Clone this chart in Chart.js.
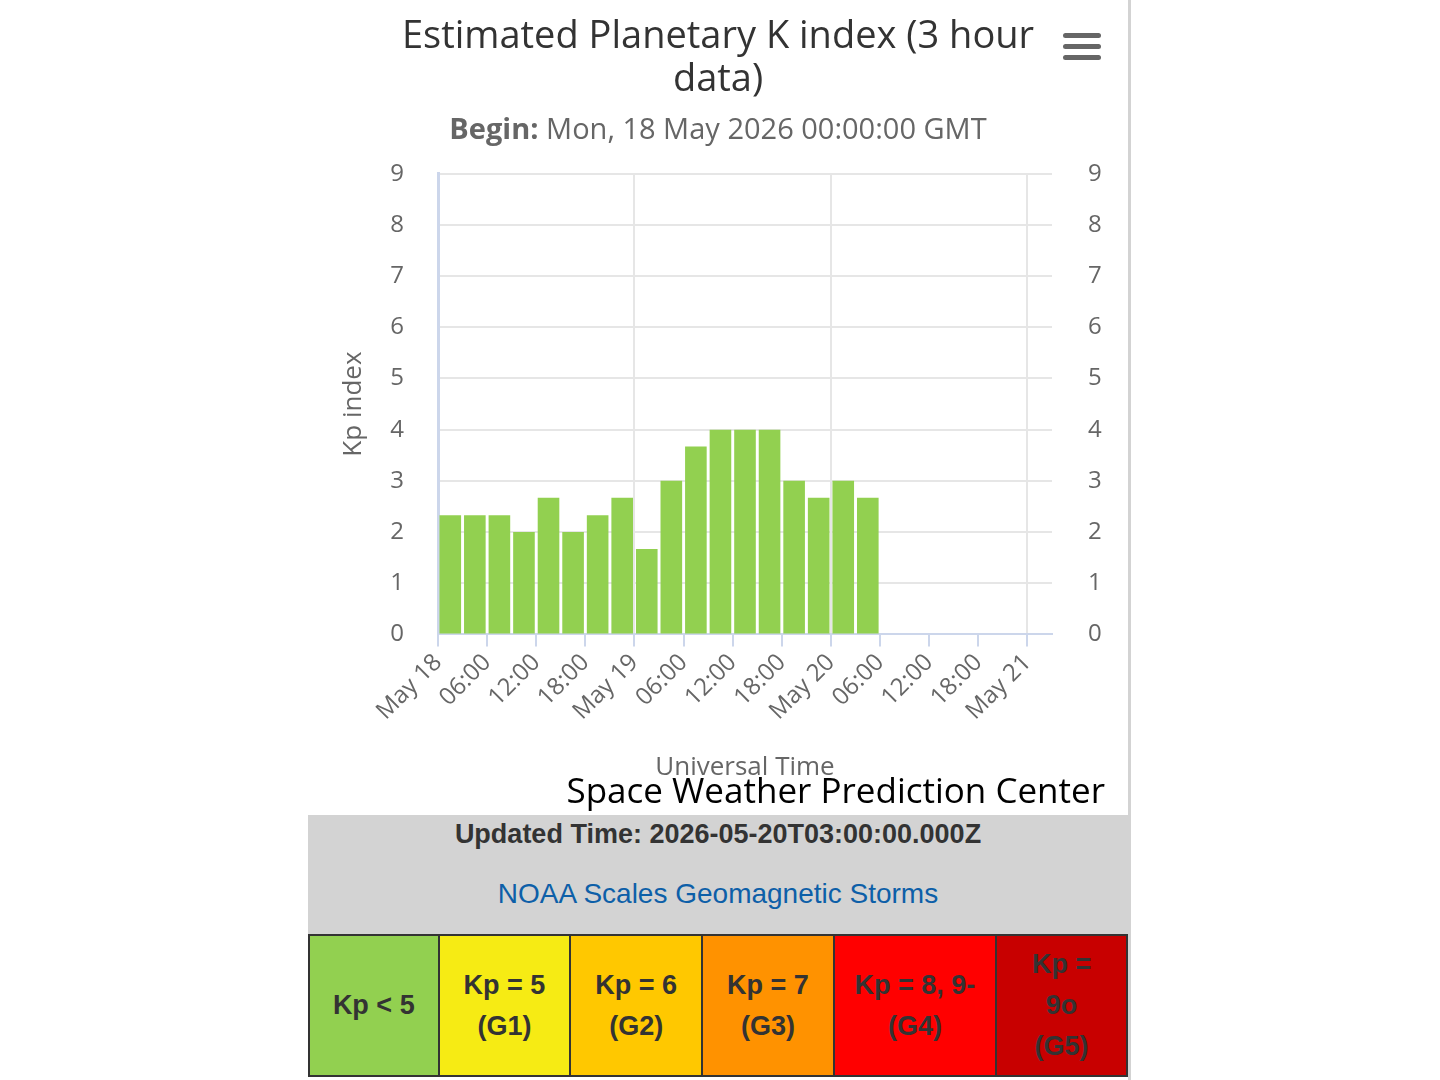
<!DOCTYPE html>
<html>
<head>
<meta charset="utf-8">
<title>Estimated Planetary K index</title>
<script src="https://cdn.jsdelivr.net/npm/chart.js@4"></script>
<style>
  body { margin: 0; background: #fff; font-family: "Liberation Sans", Arial, sans-serif; }
  #page { position: absolute; left: 308px; top: 0; width: 820px; height: 1080px; }
  #edge { position: absolute; left: 1128px; top: 0; width: 3px; height: 1080px; background: #d3d3d3; }
  #chartBox { position: relative; width: 820px; height: 815px; }
  #menu { position: absolute; left: 755px; top: 33px; width: 38px; }
  #menu div { height: 5px; border-radius: 3px; background: #666; margin-bottom: 6px; }
  #info { background: #d3d3d3; height: 119px; text-align: center; font-family: "Liberation Sans Narrow", "Liberation Sans", Arial, sans-serif; }
  #updated { padding-top: 4px; font-size: 27px; font-weight: bold; color: #333; }
  #noaa { padding-top: 28px; font-size: 28px; color: #0d5fa8; }
  table { border-collapse: collapse; width: 820px; height: 143px; font-family: "Liberation Sans Narrow", "Liberation Sans", Arial, sans-serif; }
  td { border: 2px solid #333; text-align: center; font-size: 27px; font-weight: bold; color: #333; line-height: 41px; padding: 0 4px; }
</style>
</head>
<body>
<div id="edge"></div>
<div id="page">
  <div id="chartBox">
    <canvas id="chart"></canvas>
    <div id="menu"><div></div><div></div><div></div></div>
  </div>
  <div id="info">
    <div id="updated">Updated Time: 2026-05-20T03:00:00.000Z</div>
    <div id="noaa">NOAA Scales Geomagnetic Storms</div>
  </div>
  <table>
    <tr>
      <td style="background:#92d050;width:126px">Kp &lt; 5</td>
      <td style="background:#f6eb14;width:127px">Kp = 5<br>(G1)</td>
      <td style="background:#ffc800;width:127px">Kp = 6<br>(G2)</td>
      <td style="background:#ff9200;width:127px">Kp = 7<br>(G3)</td>
      <td style="background:#ff0000;width:160px">Kp = 8, 9-<br>(G4)</td>
      <td style="background:#c80000;width:126px">Kp =<br>9o<br>(G5)</td>
    </tr>
  </table>
</div>
<script>
// 3-hour intervals, hours since Mon 18 May 2026 00:00 UTC
var barStartHours = [0, 3, 6, 9, 12, 15, 18, 21, 24, 27, 30, 33, 36, 39, 42, 45, 48, 51];
var kpValues = [2.33, 2.33, 2.33, 2.0, 2.67, 2.0, 2.33, 2.67, 1.67, 3.0, 3.67, 4.0, 4.0, 4.0, 3.0, 2.67, 3.0, 2.67];
var xTickHours = [0, 6, 12, 18, 24, 30, 36, 42, 48, 54, 60, 66, 72];
var xTickLabels = ['May 18', '06:00', '12:00', '18:00', 'May 19', '06:00', '12:00', '18:00', 'May 20', '06:00', '12:00', '18:00', 'May 21'];
var yTicks = [0, 1, 2, 3, 4, 5, 6, 7, 8, 9];

var chartFont = '"Open Sans", "DejaVu Sans", sans-serif';
var subtitleText = 'Begin: Mon, 18 May 2026 00:00:00 GMT';

var overlayText = {
    id: 'overlayText',
    afterDraw: function(chart) {
        var c = chart.ctx;
        c.save();
        // subtitle with bold prefix
        var box = chart.boxes.find(function(b) { return b.options && b.options.text === subtitleText; });
        if (box) {
            var y = box.top + 18;
            c.font = 'bold 29px ' + chartFont;
            var w1 = c.measureText('Begin: ').width;
            c.font = '29px ' + chartFont;
            var rest = 'Mon, 18 May 2026 00:00:00 GMT';
            var w2 = c.measureText(rest).width;
            var x0 = chart.width / 2 - (w1 + w2) / 2;
            c.textBaseline = 'middle';
            c.fillStyle = '#666';
            c.font = 'bold 29px ' + chartFont;
            c.fillText('Begin: ', x0, y);
            c.font = '29px ' + chartFont;
            c.fillText(rest, x0 + w1, y);
        }
        // credit
        c.font = '35px ' + chartFont;
        c.fillStyle = '#000';
        c.textAlign = 'right';
        c.textBaseline = 'middle';
        c.fillText('Space Weather Prediction Center', 797, 793);
        c.restore();
    }
};

document.addEventListener('DOMContentLoaded', function() {
    var ctx = document.getElementById('chart').getContext('2d');

    var points = barStartHours.map(function(h, i) {
        return { x: h + 1.5, y: kpValues[i] };
    });

    new Chart(ctx, {
        type: 'bar',
        data: {
            datasets: [{
                label: 'Kp',
                data: points,
                backgroundColor: '#92d050',
                borderWidth: 0,
                barPercentage: 0.88,
                categoryPercentage: 1,
                yAxisID: 'y'
            }]
        },
        options: {
            responsive: true,
            maintainAspectRatio: false,
            animation: false,
            layout: { padding: { left: 0, right: 0, top: 0, bottom: 32 } },
            plugins: {
                legend: { display: false },
                tooltip: { enabled: false },
                title: {
                    display: true,
                    text: ['Estimated Planetary K index (3 hour', 'data)'],
                    color: '#333',
                    font: { family: chartFont, size: 38, weight: 'normal', lineHeight: 1.12 },
                    padding: { top: 16, bottom: 12 }
                },
                subtitle: {
                    display: true,
                    text: subtitleText,
                    color: 'rgba(0,0,0,0)',
                    font: { family: chartFont, size: 28, lineHeight: 1.2 },
                    padding: { top: 0, bottom: 27 }
                }
            },
            scales: {
                x: {
                    type: 'linear',
                    min: 0,
                    max: 75,
                    offset: false,
                    afterBuildTicks: function(scale) {
                        scale.ticks = xTickHours.map(function(v) { return { value: v }; });
                    },
                    border: { color: '#ccd6eb', width: 2 },
                    grid: {
                        offset: false,
                        drawTicks: true,
                        tickLength: 12,
                        tickColor: '#ccd6eb',
                        color: function(c) {
                            if (c.tick && c.tick.value % 24 === 0 && c.tick.value !== 0) return '#e6e6e6';
                            return 'rgba(0,0,0,0)';
                        },
                        lineWidth: 2
                    },
                    ticks: {
                        minRotation: 45,
                        maxRotation: 45,
                        autoSkip: false,
                        color: '#666',
                        font: { family: chartFont, size: 24 },
                        padding: 2,
                        callback: function(v) {
                            var i = xTickHours.indexOf(v);
                            return i >= 0 ? xTickLabels[i] : '';
                        }
                    },
                    title: {
                        display: true,
                        text: 'Universal Time',
                        color: '#666',
                        font: { family: chartFont, size: 26 },
                        padding: { top: 24, bottom: 0 }
                    }
                },
                y: {
                    position: 'left',
                    min: 0,
                    max: 9,
                    afterBuildTicks: function(scale) {
                        scale.ticks = yTicks.map(function(v) { return { value: v }; });
                    },
                    afterFit: function(scale) { scale.width = 130; },
                    border: { color: '#ccd6eb', width: 3 },
                    grid: { color: '#e6e6e6', lineWidth: 2, drawTicks: false },
                    ticks: {
                        color: '#666',
                        font: { family: chartFont, size: 24 },
                        padding: 34
                    },
                    title: {
                        display: true,
                        text: 'Kp index',
                        color: '#666',
                        font: { family: chartFont, size: 26 },
                        padding: { top: 30, bottom: 0 }
                    }
                },
                y2: {
                    position: 'right',
                    min: 0,
                    max: 9,
                    afterBuildTicks: function(scale) {
                        scale.ticks = yTicks.map(function(v) { return { value: v }; });
                    },
                    afterFit: function(scale) { scale.width = 76; },
                    border: { display: false },
                    grid: { display: false },
                    ticks: {
                        color: '#666',
                        font: { family: chartFont, size: 24 },
                        padding: 28
                    }
                }
            }
        },
        plugins: [overlayText]
    });
});
</script>
</body>
</html>
